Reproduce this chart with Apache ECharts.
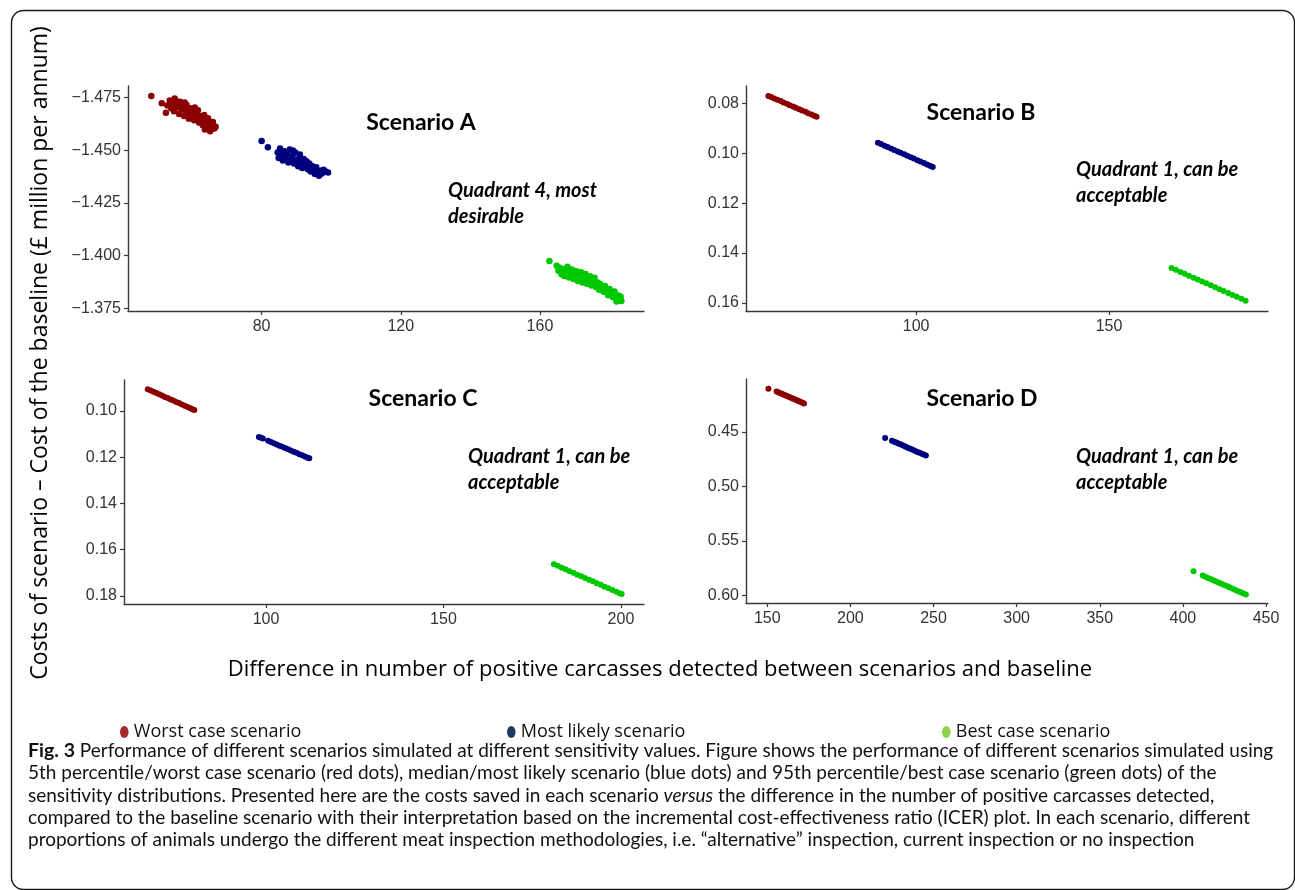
<!DOCTYPE html>
<html>
<head>
<meta charset="utf-8">
<script src="https://cdn.jsdelivr.net/npm/echarts@6/dist/echarts.min.js"></script>
<style>
html,body{margin:0;padding:0;background:#fff;}
#chart{width:1295px;height:890px;}
</style>
</head>
<body>
<div id="chart"></div>
<script>
// ---------------- DATA ----------------
const seriesNames = ['Worst case scenario', 'Most likely scenario', 'Best case scenario'];
const scenarioTitles = ['Scenario A', 'Scenario B', 'Scenario C', 'Scenario D'];
const quadrantNotes = [['Quadrant 4, most', 'desirable'], ['Quadrant 1, can be', 'acceptable'], ['Quadrant 1, can be', 'acceptable'], ['Quadrant 1, can be', 'acceptable']];

// Scenario A  [difference in positive carcasses, cost difference]
const aWorst = [[48.3,-1.4756],[51.3,-1.4722],[52.5,-1.4677],[52.9,-1.4712],[53.6,-1.4735],[54.0,-1.4698],[54.4,-1.4721],[54.8,-1.4684],[55.0,-1.4745],[55.2,-1.4738],[55.5,-1.4702],[55.9,-1.4716],[56.3,-1.4671],[56.6,-1.4729],[57.0,-1.4694],[57.3,-1.4709],[57.7,-1.4662],[57.9,-1.4726],[58.1,-1.4688],[58.4,-1.4715],[58.8,-1.4676],[59.1,-1.4649],[59.5,-1.4698],[59.9,-1.4668],[60.2,-1.4683],[60.6,-1.4641],[60.8,-1.4702],[61.0,-1.4672],[61.3,-1.4656],[61.7,-1.4689],[62.0,-1.4631],[62.4,-1.4662],[62.8,-1.4645],[63.1,-1.4618],[63.5,-1.4667],[63.7,-1.4598],[63.9,-1.4636],[64.2,-1.4605],[64.6,-1.4651],[65.0,-1.4624],[65.2,-1.4589],[65.6,-1.4612],[66.0,-1.4633],[66.4,-1.4603],[66.8,-1.4611]];
const aLikely = [[80.0,-1.4543],[81.8,-1.4513],[84.6,-1.4489],[84.9,-1.4462],[85.3,-1.4508],[85.7,-1.4478],[86.1,-1.4451],[86.5,-1.4494],[86.9,-1.4467],[87.3,-1.4482],[87.7,-1.4441],[88.1,-1.4503],[88.5,-1.4458],[88.9,-1.4472],[89.0,-1.4498],[89.3,-1.4436],[89.7,-1.4489],[90.1,-1.4452],[90.5,-1.4424],[90.9,-1.4466],[91.0,-1.4479],[91.3,-1.4441],[91.7,-1.4415],[92.1,-1.4458],[92.5,-1.4431],[92.9,-1.4447],[93.3,-1.4409],[93.7,-1.4436],[94.1,-1.4398],[94.5,-1.4425],[94.9,-1.4412],[95.3,-1.4387],[95.7,-1.4419],[96.1,-1.4395],[96.5,-1.4378],[96.9,-1.4402],[97.3,-1.4389],[97.8,-1.4407],[98.4,-1.4398],[99.1,-1.4394]];
const aBest = [[162.7,-1.3974],[164.8,-1.3951],[165.3,-1.3928],[165.7,-1.3942],[166.2,-1.3911],[166.6,-1.3935],[167.0,-1.3903],[167.5,-1.3926],[167.9,-1.3947],[168.3,-1.3896],[168.8,-1.3918],[169.2,-1.3934],[169.6,-1.3889],[170.1,-1.3911],[170.5,-1.3925],[170.9,-1.3879],[171.4,-1.3902],[171.8,-1.3921],[172.2,-1.3872],[172.7,-1.3894],[173.1,-1.3913],[173.5,-1.3866],[174.0,-1.3887],[174.4,-1.3902],[174.8,-1.3858],[175.3,-1.3879],[175.7,-1.3895],[176.1,-1.3851],[176.6,-1.3872],[177.0,-1.3838],[177.4,-1.3864],[177.9,-1.3846],[178.3,-1.3828],[178.7,-1.3855],[179.2,-1.3834],[179.6,-1.3812],[180.0,-1.3841],[180.5,-1.3822],[180.9,-1.3803],[181.4,-1.3829],[181.8,-1.3796],[182.0,-1.3782],[182.5,-1.3811],[183.0,-1.3792],[183.2,-1.3805],[183.4,-1.3784]];

// Scenario B
const bWorst = [[61.7,0.0771],[62.4,0.0775],[63.2,0.0781],[64.0,0.0786],[64.9,0.0791],[65.6,0.0797],[66.5,0.0802],[67.2,0.0808],[68.1,0.0813],[68.8,0.0818],[69.7,0.0824],[70.4,0.0829],[71.3,0.0834],[72.0,0.0840],[72.9,0.0845],[73.6,0.0850],[74.2,0.0854]];
const bLikely = [[90.1,0.0958],[90.9,0.0963],[91.8,0.0970],[92.6,0.0975],[93.5,0.0981],[94.3,0.0987],[95.2,0.0993],[96.0,0.0998],[96.9,0.1004],[97.7,0.1010],[98.6,0.1016],[99.4,0.1021],[100.3,0.1028],[101.1,0.1033],[102.0,0.1039],[102.8,0.1045],[103.6,0.1050],[104.3,0.1055]];
const bBest = [[166.2,0.1460],[167.3,0.1467],[168.5,0.1476],[169.6,0.1483],[170.7,0.1491],[171.9,0.1499],[173.0,0.1506],[174.1,0.1514],[175.2,0.1521],[176.4,0.1529],[177.5,0.1537],[178.6,0.1545],[179.7,0.1552],[180.9,0.1560],[182.0,0.1568],[183.1,0.1575],[184.3,0.1583],[185.4,0.1591]];

// Scenario C
const cWorst = [[66.7,0.0906],[67.5,0.0911],[68.3,0.0917],[69.1,0.0922],[69.9,0.0928],[70.7,0.0933],[71.5,0.0939],[72.3,0.0944],[73.1,0.0950],[73.9,0.0955],[74.7,0.0961],[75.5,0.0966],[76.3,0.0972],[77.1,0.0977],[77.9,0.0983],[78.7,0.0988],[79.3,0.0993],[79.8,0.0996]];
const cLikely = [[98.0,0.1113],[98.6,0.1116],[99.1,0.1119],[100.6,0.1129],[101.4,0.1134],[102.2,0.1140],[103.0,0.1145],[103.8,0.1150],[104.6,0.1155],[105.4,0.1160],[106.2,0.1166],[107.0,0.1171],[107.8,0.1176],[108.6,0.1181],[109.4,0.1187],[110.2,0.1192],[111.0,0.1197],[111.7,0.1202],[112.2,0.1205]];
const cBest = [[181.1,0.1663],[182.2,0.1670],[183.3,0.1678],[184.4,0.1685],[185.5,0.1693],[186.6,0.1700],[187.7,0.1708],[188.8,0.1715],[189.9,0.1722],[191.0,0.1730],[192.1,0.1737],[193.2,0.1745],[194.3,0.1752],[195.4,0.1760],[196.5,0.1767],[197.6,0.1774],[198.7,0.1782],[199.6,0.1788],[200.2,0.1792]];

// Scenario D
const dWorst = [[150.7,0.4103],[155.6,0.4128],[156.6,0.4135],[157.6,0.4142],[158.7,0.4149],[159.7,0.4156],[160.8,0.4163],[161.8,0.4170],[162.9,0.4177],[163.9,0.4184],[165.0,0.4191],[166.0,0.4198],[167.1,0.4205],[168.1,0.4212],[169.2,0.4219],[170.2,0.4226],[171.2,0.4233],[172.1,0.4240]];
const dLikely = [[220.9,0.4555],[225.0,0.4580],[226.3,0.4589],[227.6,0.4597],[228.8,0.4606],[230.1,0.4614],[231.4,0.4623],[232.7,0.4632],[233.9,0.4640],[235.2,0.4649],[236.5,0.4657],[237.8,0.4666],[239.0,0.4674],[240.3,0.4683],[241.6,0.4691],[242.9,0.4700],[244.1,0.4708],[245.4,0.4717]];
const dBest = [[406.4,0.5779],[411.9,0.5818],[413.5,0.5829],[415.1,0.5840],[416.7,0.5850],[418.3,0.5861],[420.0,0.5872],[421.6,0.5883],[423.2,0.5894],[424.8,0.5904],[426.4,0.5915],[428.0,0.5926],[429.7,0.5937],[431.3,0.5948],[432.9,0.5959],[434.5,0.5970],[436.2,0.5981],[437.9,0.5993]];

// Tick labels
const xTicks = [[80, 120, 160], [100, 150], [100, 150, 200], [150, 200, 250, 300, 350, 400, 450]];
const yTicks = [[-1.475, -1.45, -1.425, -1.4, -1.375], [0.08, 0.10, 0.12, 0.14, 0.16], [0.10, 0.12, 0.14, 0.16, 0.18], [0.45, 0.50, 0.55, 0.60]];
const yDecimals = [3, 2, 2, 2];

const yAxisTitle = 'Costs of scenario \u2013 Cost of the baseline (\u00a3 million per annum)';
const xAxisTitle = 'Difference in number of positive carcasses detected between scenarios and baseline';
const captionLines = [
  '{b|Fig. 3} Performance of different scenarios simulated at different sensitivity values. Figure shows the performance of different scenarios simulated using',
  '5th percentile/worst case scenario (red dots), median/most likely scenario (blue dots) and 95th percentile/best case scenario (green dots) of the',
  'sensitivity distributions. Presented here are the costs saved in each scenario {i|versus} the difference in the number of positive carcasses detected,',
  'compared to the baseline scenario with their interpretation based on the incremental cost-effectiveness ratio (ICER) plot. In each scenario, different',
  'proportions of animals undergo the different meat inspection methodologies, i.e. \u201calternative\u201d inspection, current inspection or no inspection'
];

// ---------------- LAYOUT / STYLE ----------------
const panelData = [[aWorst, aLikely, aBest], [bWorst, bLikely, bBest], [cWorst, cLikely, cBest], [dWorst, dLikely, dBest]];
const grids = [
  {left: 128, top: 86, width: 516, height: 225},
  {left: 746, top: 86, width: 522, height: 225},
  {left: 124, top: 380, width: 520, height: 224},
  {left: 746, top: 379, width: 522, height: 224}
];
const xRanges = [[41.6, 189.9], [55.9, 191.2], [60.0, 206.5], [137.2, 451.2]];
const yRanges = [[-1.4804, -1.3737], [0.0731, 0.1632], [0.0866, 0.1835], [0.4014, 0.607]];
const pointColors = ['#8B0000', '#00007F', '#00C800'];
const legendColors = ['#a52a2a', '#1f3a5f', '#8dd14f'];
const titlePos = [[421, 123], [981, 113], [423, 399], [982, 399]];
const notePos = [[448, 191], [1076, 170], [468, 457], [1076, 457]];

const axisColor = '#3a3a3a';
const labelFont = 'Liberation Sans, Arial, sans-serif';

function fmtY(v, d) {
  const s = Math.abs(v).toFixed(d);
  return (v < -1e-12 ? '\u2212' : '') + s;
}

const xAxes = [], yAxes = [], series = [];
for (let i = 0; i < 4; i++) {
  xAxes.push({
    type: 'value', gridIndex: i, min: xRanges[i][0], max: xRanges[i][1],
    axisLine: {show: true, lineStyle: {color: axisColor, width: 1.4}},
    axisTick: {show: true, length: 4, customValues: xTicks[i], lineStyle: {color: axisColor, width: 1.2}},
    axisLabel: {customValues: xTicks[i], color: '#333', fontSize: 16, fontFamily: labelFont, margin: 8,
      formatter: v => String(v)},
    splitLine: {show: false}
  });
  const dec = yDecimals[i];
  yAxes.push({
    type: 'value', gridIndex: i, inverse: true, min: yRanges[i][0], max: yRanges[i][1],
    axisLine: {show: true, lineStyle: {color: axisColor, width: 1.4}},
    axisTick: {show: true, length: 4, customValues: yTicks[i], lineStyle: {color: axisColor, width: 1.2}},
    axisLabel: {customValues: yTicks[i], color: '#333', fontSize: 16, fontFamily: labelFont, margin: 7,
      formatter: v => fmtY(v, dec)},
    splitLine: {show: false}
  });
  for (let s = 0; s < 3; s++) {
    series.push({
      type: 'scatter', name: seriesNames[s], xAxisIndex: i, yAxisIndex: i,
      data: panelData[i][s], symbol: 'circle', symbolSize: i === 0 ? 6.5 : 6,
      itemStyle: {color: pointColors[s], opacity: 1}, silent: true
    });
  }
}

const graphics = [];
// outer frame
graphics.push({type: 'rect', left: 9, top: 8, silent: true,
  shape: {x: 0, y: 0, width: 1283, height: 879, r: 12},
  style: {fill: 'none', stroke: '#1a1a1a', lineWidth: 1.4}});
for (let i = 0; i < 4; i++) {
  graphics.push({type: 'text', x: titlePos[i][0], y: titlePos[i][1], silent: true,
    style: {text: scenarioTitles[i], fill: '#000', font: 'bold 23px Lato, sans-serif', align: 'center', verticalAlign: 'middle'}});
  graphics.push({type: 'text', x: notePos[i][0], y: notePos[i][1], silent: true,
    style: {text: quadrantNotes[i][0], fill: '#000', font: 'italic bold 20px Lato, sans-serif', align: 'left', verticalAlign: 'middle'}});
  graphics.push({type: 'text', x: notePos[i][0], y: notePos[i][1] + 25.5, silent: true,
    style: {text: quadrantNotes[i][1], fill: '#000', font: 'italic bold 20px Lato, sans-serif', align: 'left', verticalAlign: 'middle'}});
}
graphics.push({type: 'text', x: 40, y: 353, rotation: Math.PI / 2, silent: true,
  style: {text: yAxisTitle, fill: '#000', font: '23px "Open Sans", sans-serif', align: 'center', verticalAlign: 'middle'}});
graphics.push({type: 'text', x: 660, y: 670, silent: true,
  style: {text: xAxisTitle, fill: '#000', font: '22px "Open Sans", sans-serif', align: 'center', verticalAlign: 'middle'}});
const capY = [751, 773, 796, 818, 840];
for (let k = 0; k < captionLines.length; k++) {
  graphics.push({type: 'text', x: 28, y: capY[k], silent: true,
    style: {text: captionLines[k], fill: '#111', fontFamily: 'Lato, sans-serif', fontSize: 19,
      align: 'left', verticalAlign: 'middle',
      rich: {b: {fontWeight: 'bold', fontSize: 19.5, fontFamily: 'Lato, sans-serif', fill: '#111'},
             i: {fontStyle: 'italic', fontSize: 19, fontFamily: 'Lato, sans-serif', fill: '#111'}}}});
}

const legendLeft = [115, 502, 937];
const legends = seriesNames.map((nm, s) => ({
  left: legendLeft[s], top: 718, orient: 'horizontal', selectedMode: false,
  itemWidth: 9, itemHeight: 12, itemGap: 10,
  icon: 'path://M5,0A5,7,0,1,1,5,14A5,7,0,1,1,5,0Z',
  textStyle: {fontFamily: '"Open Sans", sans-serif', fontSize: 18, color: '#111'},
  data: [{name: nm, itemStyle: {color: legendColors[s]}}]
}));

const chart = echarts.init(document.getElementById('chart'), null, {renderer: 'canvas'});
chart.setOption({
  animation: false,
  backgroundColor: '#fff',
  grid: grids,
  xAxis: xAxes,
  yAxis: yAxes,
  legend: legends,
  series: series,
  graphic: graphics
});
</script>
</body>
</html>
